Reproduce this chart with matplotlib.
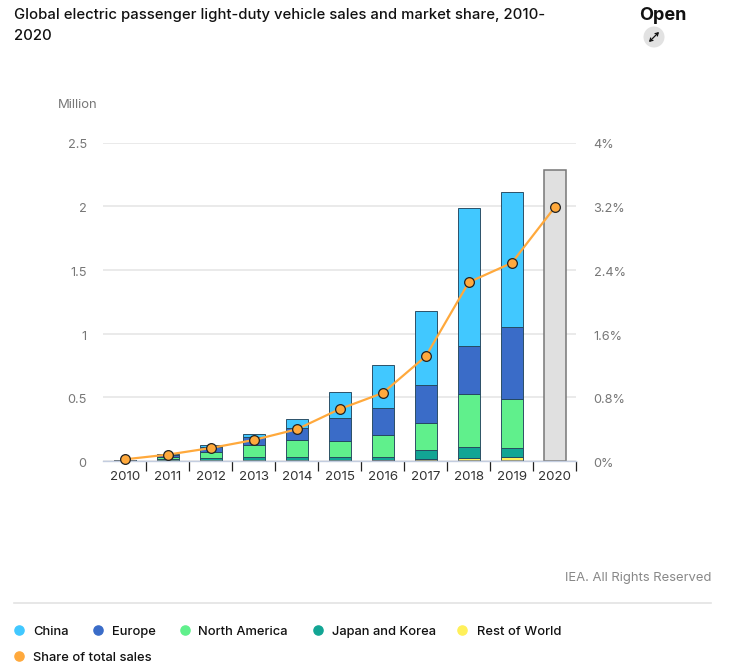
import matplotlib
matplotlib.use("Agg")
import matplotlib.pyplot as plt
from matplotlib.lines import Line2D
from matplotlib.patches import Circle
from matplotlib.transforms import ScaledTranslation

plt.rcParams['font.family'] = ['Inter', 'DejaVu Sans']

years = ['2010', '2011', '2012', '2013', '2014', '2015', '2016', '2017', '2018', '2019', '2020']
row = [0.0, 0.0, 0.0, 0.0, 0.0, 0.0, 0.005, 0.014, 0.022, 0.030, 0.0]
japan_korea = [0.002, 0.016, 0.024, 0.034, 0.034, 0.034, 0.029, 0.071, 0.086, 0.070, 0.0]
north_america = [0.002, 0.013, 0.049, 0.089, 0.128, 0.120, 0.170, 0.212, 0.417, 0.388, 0.0]
europe = [0.001, 0.016, 0.040, 0.065, 0.097, 0.184, 0.210, 0.296, 0.379, 0.563, 0.0]
china = [0.002, 0.010, 0.010, 0.022, 0.071, 0.207, 0.340, 0.581, 1.081, 1.063, 0.0]
total_2020 = [0, 0, 0, 0, 0, 0, 0, 0, 0, 0, 2.285]
share = [0.021, 0.08, 0.163, 0.264, 0.398, 0.653, 0.854, 1.315, 2.245, 2.488, 3.187]
left_ticks = [0, 0.5, 1, 1.5, 2, 2.5]
left_labels = ['0', '0.5', '1', '1.5', '2', '2.5']
right_ticks = [0, 0.8, 1.6, 2.4, 3.2, 4]
right_labels = ['0%', '0.8%', '1.6%', '2.4%', '3.2%', '4%']

stack = [
    (row, '#fff05a'),
    (japan_korea, '#12a594'),
    (north_america, '#60f08c'),
    (europe, '#3a6cc8'),
    (china, '#41c8ff'),
]
legend_items = [
    ('China', '#41c8ff', 14, 33, 630),
    ('Europe', '#3a6cc8', 93, 112, 630),
    ('North America', '#60f08c', 180, 198, 630),
    ('Japan and Korea', '#12a594', 313, 332, 630),
    ('Rest of World', '#fff05a', 457.5, 477, 630),
    ('Share of total sales', '#ffa93c', 14, 33, 656),
]

W, H = 740, 667
fig = plt.figure(figsize=(W / 100, H / 100), dpi=100, facecolor='white')


def fx(px):
    return px / W


def fy(py):
    return 1 - py / H


ax = fig.add_axes([fx(103.3), fy(461.0), (576.3 - 103.3) / W, (461.0 - 142.5) / H])
ax.set_xlim(-0.5, 10.5)
ax.set_ylim(0, 2.5)
ax.set_axisbelow(True)

x = list(range(len(years)))
bottom = [0.0] * len(years)
for values, colour in stack:
    ax.bar(x, values, width=0.5, bottom=bottom, color=colour,
           edgecolor='#24475e', linewidth=0.65, zorder=3)
    bottom = [b + v for b, v in zip(bottom, values)]
ax.bar(x, total_2020, width=0.5, color='#e0e0e0', edgecolor='#777777', linewidth=1.1, zorder=3)

for side in ('top', 'left', 'right'):
    ax.spines[side].set_visible(False)
ax.spines['bottom'].set_color('#c3cde0')
ax.spines['bottom'].set_linewidth(1.0)
ax.spines['bottom'].set_zorder(4)

ax.set_yticks(left_ticks, left_labels)
ax.tick_params(axis='y', length=0, pad=12, labelsize=9.2, labelcolor='#777777')
ax.grid(axis='y', color='#e6e6e6', linewidth=1.2)

ax.set_xticks(x, years)
ax.tick_params(axis='x', which='major', length=0, pad=7.5, labelsize=9.6, labelcolor='#333333')
ax.set_xticks([i + 0.5 for i in x], minor=True)
ax.tick_params(axis='x', which='minor', length=7, width=0.9, color='#222222')

ax2 = ax.twinx()
ax2.set_ylim(0, 4)
ax2.set_yticks(right_ticks, right_labels)
ax2.tick_params(axis='y', length=0, pad=12.5, labelsize=9.2, labelcolor='#777777')
for spine in ax2.spines.values():
    spine.set_visible(False)
ax2.plot(x, share, color='#ffa93c', linewidth=1.6, marker='o', markersize=7.0,
         markerfacecolor='#ffa93c', markeredgecolor='#222222', markeredgewidth=0.9,
         zorder=5, clip_on=False)

# Nudge the value labels just below their gridlines
nudge = ScaledTranslation(0, -1.5 / 100, fig.dpi_scale_trans)
for label in ax.get_yticklabels() + ax2.get_yticklabels():
    label.set_transform(label.get_transform() + nudge)

# Heading block and units
fig.text(fx(14), fy(15.5), 'Global electric passenger light-duty vehicle sales and market share, 2010-',
         fontsize=10.7, fontweight='medium', color='#111111', va='center')
fig.text(fx(14), fy(36), '2020', fontsize=10.7, fontweight='medium', color='#111111', va='center')
fig.text(fx(639), fy(15), 'Open', fontsize=13, fontweight='bold', color='#111111', va='center')
fig.text(fx(58), fy(105.5), 'Million', fontsize=9.4, color='#777777', va='center')
fig.text(fx(711), fy(578.5), 'IEA. All Rights Reserved', fontsize=9.4, color='#888888', va='center', ha='right')

# Expand icon
overlay = fig.add_axes([0, 0, 1, 1], facecolor='none')
overlay.set_xlim(0, W)
overlay.set_ylim(H, 0)
overlay.axis('off')
overlay.add_patch(Circle((654, 37), 10.5, facecolor='#e2e2e2', edgecolor='none'))
overlay.annotate('', xy=(659, 32), xytext=(649, 42),
                 arrowprops=dict(arrowstyle='<->,head_length=0.2,head_width=0.12',
                                 color='#111111', lw=0.9, shrinkA=0, shrinkB=0))

# Footer rule and legend
overlay.add_line(Line2D([14, 711], [603, 603], color='#e3e3e3', linewidth=1.2))
for label, colour, dot_x, text_x, y in legend_items:
    overlay.plot([dot_x + 4.5], [y], marker='o', markersize=6.6, color=colour, linestyle='none')
    overlay.text(text_x, y + 4.8, label, fontsize=9.3, fontweight='medium', color='#111111', va='baseline')

fig.savefig('out.png', dpi=100)
